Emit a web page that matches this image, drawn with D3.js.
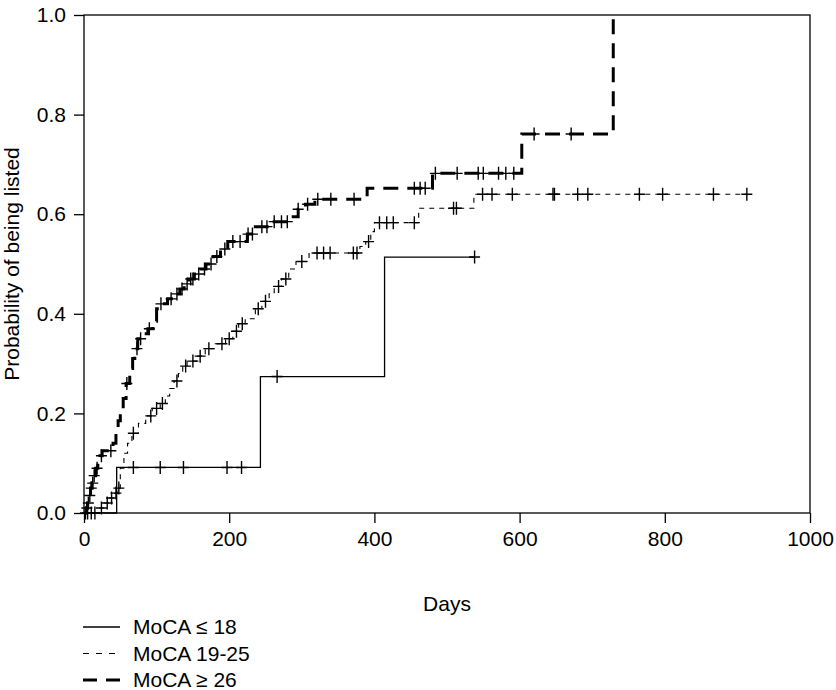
<!DOCTYPE html>
<html>
<head>
<meta charset="utf-8">
<script src="https://cdn.jsdelivr.net/npm/d3@7"></script>
<style>
  body { margin: 0; background: #fff; }
  text { font-family: "Liberation Sans", Arial, Helvetica, sans-serif; fill: #000; }
</style>
</head>
<body>
<svg id="chart" width="836" height="690"></svg>
<script>
// Kaplan-Meier style steps: [day, cumulative probability of being listed]
const moca18Steps = [[0, 0], [45, 0.0915], [243, 0.274], [414, 0.514]];
const moca18Censor = [68, 105, 137, 197, 217, 266, 538];
const moca18End = 538;

const moca1925Steps = [
  [0, 0], [20, 0.01], [28, 0.02], [35, 0.03], [42, 0.04], [46, 0.05], [50, 0.09], [55, 0.12],
  [60, 0.14], [66, 0.16], [75, 0.18], [85, 0.195], [94, 0.21], [105, 0.22], [112, 0.235],
  [118, 0.25], [124, 0.265], [130, 0.28], [136, 0.295], [142, 0.305], [155, 0.315], [167, 0.33],
  [180, 0.34], [195, 0.35], [205, 0.365], [213, 0.38], [222, 0.39], [236, 0.41], [245, 0.425],
  [255, 0.44], [262, 0.455], [272, 0.47], [282, 0.49], [292, 0.505], [310, 0.522], [380, 0.535],
  [388, 0.545], [395, 0.565], [400, 0.583], [461, 0.612], [537, 0.64]
];
const moca1925Censor = [
  5, 10, 15, 24, 32, 38, 44, 48, 68, 92, 100, 108, 128, 140, 150, 160, 172, 190, 200, 210, 218,
  240, 250, 268, 278, 300, 321, 330, 339, 371, 376, 392, 407, 417, 426, 455, 509, 513, 549, 562,
  590, 646, 648, 680, 694, 765, 797, 867, 913
];
const moca1925End = 913;

const moca26Steps = [
  [0, 0], [3, 0.01], [5, 0.02], [7, 0.035], [9, 0.05], [11, 0.06], [13, 0.075], [16, 0.09],
  [19, 0.10], [22, 0.115], [25, 0.125], [40, 0.14], [44, 0.16], [47, 0.185], [50, 0.21],
  [54, 0.23], [58, 0.26], [63, 0.29], [67, 0.31], [70, 0.33], [74, 0.35], [80, 0.36], [88, 0.37],
  [95, 0.385], [100, 0.41], [104, 0.42], [115, 0.43], [125, 0.44], [132, 0.45], [138, 0.46],
  [144, 0.47], [152, 0.48], [160, 0.49], [168, 0.50], [178, 0.515], [188, 0.53], [198, 0.545],
  [225, 0.56], [236, 0.575], [255, 0.585], [285, 0.595], [295, 0.61], [305, 0.62], [318, 0.63],
  [390, 0.652], [480, 0.682], [603, 0.761], [729, 1.0]
];
const moca26Censor = [
  2, 4, 6, 8, 10, 12, 14, 18, 24, 37, 59, 73, 78, 90, 106, 120, 128, 135, 142, 147, 150, 158,
  166, 175, 183, 194, 205, 215, 226, 232, 245, 252, 262, 272, 280, 295, 308, 322, 340, 372, 455,
  463, 470, 484, 514, 543, 550, 571, 581, 592, 620, 671
];
const moca26End = 729;

const xTicks = [0, 200, 400, 600, 800, 1000];
const yTicks = [0, 0.2, 0.4, 0.6, 0.8, 1.0];
const legendLabels = ['MoCA \u2264 18', 'MoCA 19-25', 'MoCA \u2265 26'];

const svg = d3.select('#chart');
const plotLeft = 84, plotRight = 810, plotTop = 15, plotBottom = 513;
const fontSize = '21px';

const x = d3.scaleLinear().domain([0, 1000]).range([plotLeft, plotRight]);
const y = d3.scaleLinear().domain([0, 1]).range([plotBottom, plotTop]);

// box around the plot
svg.append('rect')
  .attr('x', plotLeft).attr('y', plotTop)
  .attr('width', plotRight - plotLeft).attr('height', plotBottom - plotTop)
  .attr('fill', 'none').attr('stroke', '#000').attr('stroke-width', 1.3);

const xAxis = svg.append('g')
  .attr('transform', 'translate(0,' + plotBottom + ')')
  .call(d3.axisBottom(x).tickValues(xTicks).tickSize(10).tickPadding(8).tickFormat(d3.format('d')));
const yAxis = svg.append('g')
  .attr('transform', 'translate(' + plotLeft + ',0)')
  .call(d3.axisLeft(y).tickValues(yTicks).tickSize(10).tickPadding(8).tickFormat(d3.format('.1f')));
[xAxis, yAxis].forEach(g => {
  g.select('.domain').remove();
  g.selectAll('line').attr('stroke', '#000').attr('stroke-width', 1.3);
  g.selectAll('text').style('font-size', fontSize).attr('font-family', null);
});

svg.append('text')
  .attr('x', (plotLeft + plotRight) / 2).attr('y', 611)
  .attr('text-anchor', 'middle').style('font-size', fontSize)
  .text('Days');
svg.append('text')
  .attr('transform', 'translate(19,' + ((plotTop + plotBottom) / 2) + ') rotate(-90)')
  .attr('text-anchor', 'middle').style('font-size', fontSize)
  .text('Probability of being listed');

const series = [
  { steps: moca18Steps, censor: moca18Censor, end: moca18End, width: 1.3, dash: null, legendDash: null },
  { steps: moca1925Steps, censor: moca1925Censor, end: moca1925End, width: 1.1, dash: '5,5', legendDash: '6,7' },
  { steps: moca26Steps, censor: moca26Censor, end: moca26End, width: 3, dash: '15,9', legendDash: '14,9' }
];

const stepLine = d3.line()
  .x(d => x(d[0]))
  .y(d => y(d[1]))
  .curve(d3.curveStepAfter);
const bis = d3.bisector(d => d[0]).right;

series.forEach(s => {
  const last = s.steps[s.steps.length - 1];
  const pts = s.end > last[0] ? s.steps.concat([[s.end, last[1]]]) : s.steps;
  svg.append('path')
    .attr('d', stepLine(pts))
    .attr('fill', 'none')
    .attr('stroke', '#000')
    .attr('stroke-width', s.width)
    .attr('stroke-dasharray', s.dash);

  // censoring marks
  const valueAt = t => s.steps[Math.max(0, bis(s.steps, t) - 1)][1];
  const marks = svg.append('g');
  s.censor.forEach(t => {
    const cx = x(t), cy = y(valueAt(t));
    marks.append('path')
      .attr('d', 'M' + (cx - 5.5) + ',' + cy + 'H' + (cx + 5.5) + 'M' + cx + ',' + (cy - 6.5) + 'V' + (cy + 6.5))
      .attr('stroke', '#000').attr('stroke-width', 1.4).attr('fill', 'none');
  });
});

// legend
const legend = svg.append('g');
series.forEach((s, i) => {
  const ly = 627 + i * 26.5;
  legend.append('line')
    .attr('x1', 83).attr('x2', 120).attr('y1', ly).attr('y2', ly)
    .attr('stroke', '#000').attr('stroke-width', s.width)
    .attr('stroke-dasharray', s.legendDash);
  legend.append('text')
    .attr('x', 133).attr('y', ly + 7)
    .style('font-size', fontSize)
    .text(legendLabels[i]);
});
</script>
</body>
</html>
